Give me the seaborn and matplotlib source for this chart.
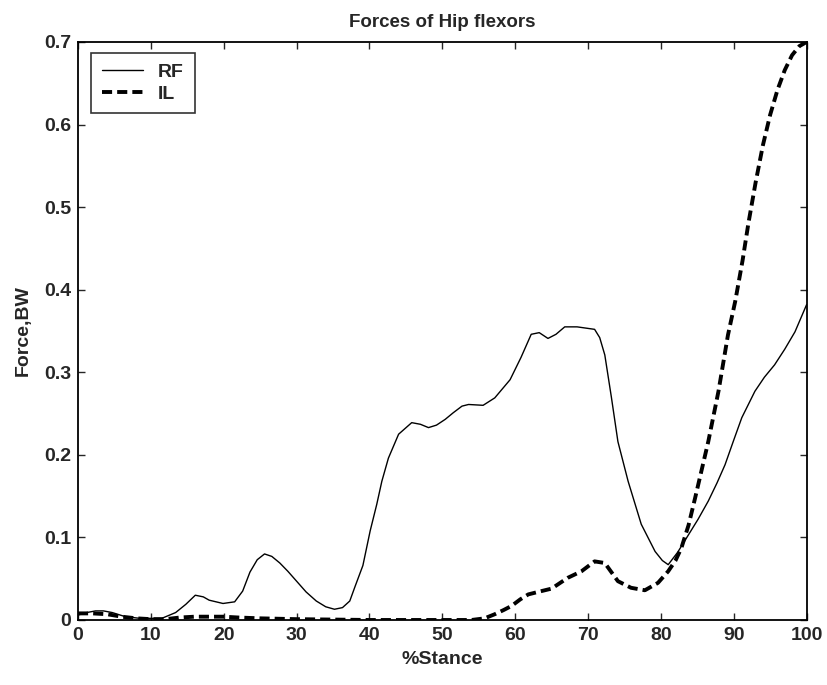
import matplotlib
matplotlib.use("Agg")
import matplotlib.pyplot as plt
import seaborn as sns
import pandas as pd

# %Stance and force (BW) for Rectus Femoris (RF)
rf_x = [0, 1.2, 2.4, 3.5, 4.7, 6.5, 8.5, 11.5, 13.4, 14.8, 16.1, 17.2, 18, 19.9, 21.5, 22.6,
        23.6, 24.6, 25.6, 26.6, 27.7, 28.8, 30, 31.3, 32.7, 34, 35.2, 36.3, 37.3, 38.0, 39.1,
        40.1, 41.0, 41.7, 42.6, 44, 45.8, 47, 48.1, 49.2, 50.4, 51.5, 52.7, 53.6, 55.6, 57.2,
        59.3, 60.8, 62.2, 63.3, 64.5, 65.6, 66.8, 68.5, 70.9, 71.6, 72.3, 73.2, 74.1, 75.5,
        77.3, 79.2, 80.2, 81.0, 82.3, 83.7, 85.1, 86.5, 87.7, 88.8, 90, 91.1, 92.9, 94.2,
        95.6, 97, 98.4, 100]
rf_y = [0.006, 0.009, 0.011, 0.011, 0.009, 0.004, 0.002, 0.002, 0.009, 0.019, 0.030, 0.028,
        0.024, 0.020, 0.022, 0.035, 0.058, 0.073, 0.080, 0.077, 0.069, 0.059, 0.047, 0.034,
        0.023, 0.016, 0.013, 0.015, 0.023, 0.040, 0.066, 0.108, 0.140, 0.168, 0.196, 0.225,
        0.239, 0.237, 0.233, 0.236, 0.243, 0.251, 0.259, 0.261, 0.260, 0.269, 0.291, 0.318,
        0.346, 0.348, 0.341, 0.346, 0.355, 0.355, 0.352, 0.342, 0.321, 0.270, 0.216, 0.168,
        0.116, 0.083, 0.072, 0.067, 0.082, 0.102, 0.122, 0.144, 0.166, 0.188, 0.218, 0.245,
        0.277, 0.294, 0.309, 0.328, 0.349, 0.382]

# %Stance and force (BW) for Iliopsoas (IL)
il_x = [0, 2, 4, 6, 8, 10, 12, 14, 16, 18, 20, 22, 25, 30, 40, 50, 54, 55.8, 57.2, 58.4,
        59.5, 60.7, 61.8, 63.6, 65, 67.2, 69.1, 70.9, 72.3, 73.2, 74.1, 75.9, 77.8, 79.6,
        81.0, 82.0, 82.8, 83.8, 84.7, 85.6, 86.5, 87.9, 89.2, 90.2, 91.2, 92.0, 93.0, 94.0,
        95.0, 96.0, 97.0, 98.0, 99.0, 100]
il_y = [0.008, 0.008, 0.007, 0.004, 0.002, 0.001, 0.001, 0.003, 0.004, 0.004, 0.004, 0.003,
        0.002, 0.001, 0.0, 0.0, 0.0, 0.002, 0.007, 0.012, 0.017, 0.025, 0.031, 0.035, 0.038,
        0.051, 0.059, 0.071, 0.069, 0.058, 0.047, 0.039, 0.036, 0.045, 0.059, 0.072, 0.087,
        0.115, 0.148, 0.182, 0.216, 0.277, 0.345, 0.386, 0.435, 0.480, 0.530, 0.575, 0.612,
        0.642, 0.666, 0.684, 0.695, 0.700]

x_ticks = [0, 10, 20, 30, 40, 50, 60, 70, 80, 90, 100]
y_ticks = [0, 0.1, 0.2, 0.3, 0.4, 0.5, 0.6, 0.7]
y_tick_labels = ["0", "0.1", "0.2", "0.3", "0.4", "0.5", "0.6", "0.7"]

sns.set_style("ticks")
plt.rcParams["font.family"] = ["Liberation Sans", "DejaVu Sans"]
plt.rcParams["font.weight"] = "bold"

fig = plt.figure(figsize=(8.28, 6.85), dpi=100)
ax = fig.add_axes([0.0942, 0.0949, 0.880, 0.8438])

rf_df = pd.DataFrame({"x": rf_x, "y": rf_y})
il_df = pd.DataFrame({"x": il_x, "y": il_y})
sns.lineplot(data=rf_df, x="x", y="y", ax=ax, color="black", lw=1.0, label="RF")
sns.lineplot(data=il_df, x="x", y="y", ax=ax, color="black", lw=2.8, label="IL")
ax.lines[1].set_dashes((2.6, 1.3))

ax.set_xlim(0, 100)
ax.set_ylim(0, 0.7)
ax.set_xticks(x_ticks)
ax.set_xticklabels([str(t) for t in x_ticks])
ax.set_yticks(y_ticks)
ax.set_yticklabels(y_tick_labels)
ax.tick_params(direction="in", length=5, width=1, top=True, right=True,
               labelsize=14, pad=5)
for lab in ax.get_xticklabels() + ax.get_yticklabels():
    lab.set_fontweight("bold")
for s in ax.spines.values():
    s.set_linewidth(1.3)
    s.set_color("black")
    s.set_visible(True)

ax.set_xlabel("%Stance", fontsize=14, fontweight="bold", labelpad=5)
ax.set_ylabel("Force,BW", fontsize=14, fontweight="bold", labelpad=9)
ax.set_title("Forces of Hip flexors", fontsize=13.5, fontweight="bold", pad=11)

leg = ax.legend(loc="upper left", bbox_to_anchor=(0.018, 0.981), borderaxespad=0,
                fontsize=14, frameon=True, fancybox=False, edgecolor="black",
                handlelength=2.1, handletextpad=0.8, labelspacing=0.2,
                borderpad=0.55)
leg.get_frame().set_linewidth(1.2)
for t in leg.get_texts():
    t.set_fontweight("bold")

fig.savefig("out.png", dpi=100)
